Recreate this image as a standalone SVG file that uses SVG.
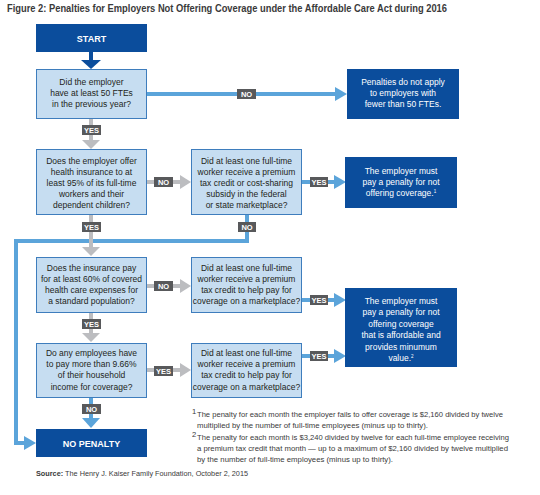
<svg xmlns="http://www.w3.org/2000/svg" width="540" height="495" viewBox="0 0 540 495">
<defs>
<style>
.q{fill:#c6ddf1;stroke:#3e7dbd;stroke-width:1}
.d{fill:#0b4d9c}
.t{font-family:"Liberation Sans",Arial,sans-serif;font-size:8.5px;fill:#231f20;text-anchor:middle}
.w{font-family:"Liberation Sans",Arial,sans-serif;font-size:8.5px;fill:#ffffff;text-anchor:middle}
.b{font-family:"Liberation Sans",Arial,sans-serif;font-size:9px;font-weight:bold;fill:#ffffff;text-anchor:middle}
.lb{fill:#58595b}
.lt{font-family:"Liberation Sans",Arial,sans-serif;font-size:7.5px;font-weight:bold;fill:#ffffff;text-anchor:middle}
.bl{stroke:#5ba4da;stroke-width:4;fill:none}
.gr{stroke:#bcbdc0;stroke-width:4;fill:none}
.bh{fill:#5ba4da}
.gh{fill:#bcbdc0}
.fn{font-family:"Liberation Sans",Arial,sans-serif;font-size:7.6px;fill:#3a3a3a}
</style>
</defs>
<rect width="540" height="495" fill="#ffffff"/>
<text x="7" y="12" font-family="'Liberation Sans',Arial,sans-serif" font-size="11" font-weight="bold" fill="#3a3a3a" textLength="440" lengthAdjust="spacingAndGlyphs">Figure 2: Penalties for Employers Not Offering Coverage under the Affordable Care Act during 2016</text>

<g id="connectors">
<line x1="91" y1="52" x2="91" y2="61" stroke="#0b4d9c" stroke-width="4"/>
<polygon points="81,60 101,60 91,69" fill="#0b4d9c"/>
<line class="bl" x1="147" y1="94" x2="337" y2="94"/>
<polygon class="bh" points="335,87 347,94 335,101"/>
<line class="gr" x1="91" y1="119" x2="91" y2="141"/>
<polygon class="gh" points="82,140 100,140 91,149"/>
<line class="gr" x1="147" y1="182" x2="182" y2="182"/>
<polygon class="gh" points="180,175 191,182 180,189"/>
<line class="bl" x1="302" y1="182" x2="336" y2="182"/>
<polygon class="bh" points="334,175 346,182 334,189"/>
<polyline class="bl" points="247,215 247,241 16,241 16,443 26,443"/>
<polygon class="bh" points="24,436 36,443 24,450"/>
<line class="gr" x1="91" y1="215" x2="91" y2="248"/>
<polygon class="gh" points="82,247 100,247 91,256"/>
<line class="gr" x1="147" y1="286" x2="182" y2="286"/>
<polygon class="gh" points="180,279 191,286 180,293"/>
<line class="bl" x1="302" y1="300" x2="336" y2="300"/>
<polygon class="bh" points="334,293 346,300 334,307"/>
<line class="gr" x1="91" y1="313" x2="91" y2="334"/>
<polygon class="gh" points="82,333 100,333 91,342"/>
<line class="gr" x1="147" y1="370" x2="182" y2="370"/>
<polygon class="gh" points="180,363 191,370 180,377"/>
<line class="bl" x1="302" y1="356" x2="336" y2="356"/>
<polygon class="bh" points="334,349 346,356 334,363"/>
<line class="bl" x1="91" y1="398" x2="91" y2="419"/>
<polygon class="bh" points="82,418 100,418 91,428"/>

<rect class="lb" x="237" y="89" width="19" height="10"/><text class="lt" x="246.5" y="97">NO</text>
<rect class="lb" x="82" y="125" width="19" height="10"/><text class="lt" x="91.5" y="133">YES</text>
<rect class="lb" x="154" y="177" width="19" height="10"/><text class="lt" x="163.5" y="185">NO</text>
<rect class="lb" x="310" y="177" width="18" height="10"/><text class="lt" x="319" y="185">YES</text>
<rect class="lb" x="82" y="222" width="19" height="10"/><text class="lt" x="91.5" y="230">YES</text>
<rect class="lb" x="238" y="222" width="18" height="10"/><text class="lt" x="247" y="230">NO</text>
<rect class="lb" x="154" y="281" width="19" height="10"/><text class="lt" x="163.5" y="289">NO</text>
<rect class="lb" x="310" y="295" width="18" height="10"/><text class="lt" x="319" y="303">YES</text>
<rect class="lb" x="82" y="319" width="19" height="10"/><text class="lt" x="91.5" y="327">YES</text>
<rect class="lb" x="154" y="366" width="19" height="10"/><text class="lt" x="163.5" y="374">YES</text>
<rect class="lb" x="310" y="351" width="18" height="10"/><text class="lt" x="319" y="359">YES</text>
<rect class="lb" x="82" y="404" width="19" height="10"/><text class="lt" x="91.5" y="412">NO</text>
</g>

<g id="start"><rect class="d" x="36" y="24" width="111" height="28"/><text class="b" x="91.5" y="41.5">START</text></g>

<g id="q1"><rect class="q" x="36.5" y="69.5" width="110" height="49"/>
<text class="t" x="91.5" y="85">Did the employer</text>
<text class="t" x="91.5" y="96">have at least 50 FTEs</text>
<text class="t" x="91.5" y="107">in the previous year?</text></g>

<g id="r1"><rect class="d" x="347" y="69" width="112" height="50"/>
<text class="w" x="403" y="85">Penalties do not apply</text>
<text class="w" x="403" y="96">to employers with</text>
<text class="w" x="403" y="107">fewer than 50 FTEs.</text></g>

<g id="q2"><rect class="q" x="36.5" y="149.5" width="110" height="65"/>
<text class="t" x="91.5" y="164">Does the employer offer</text>
<text class="t" x="91.5" y="175">health insurance to at</text>
<text class="t" x="91.5" y="186">least 95% of its full-time</text>
<text class="t" x="91.5" y="197">workers and their</text>
<text class="t" x="91.5" y="208">dependent children?</text></g>

<g id="q3"><rect class="q" x="191.5" y="149.5" width="110" height="65"/>
<text class="t" x="246.5" y="164">Did at least one full-time</text>
<text class="t" x="246.5" y="175">worker receive a premium</text>
<text class="t" x="246.5" y="186">tax credit or cost-sharing</text>
<text class="t" x="246.5" y="197">subsidy in the federal</text>
<text class="t" x="246.5" y="208">or state marketplace?</text></g>

<g id="r2"><rect class="d" x="345" y="157" width="112" height="51"/>
<text class="w" x="401" y="174">The employer must</text>
<text class="w" x="401" y="185">pay a penalty for not</text>
<text class="w" x="401" y="196">offering coverage.<tspan font-size="4.5" dy="-3">1</tspan></text></g>

<g id="q4"><rect class="q" x="36.5" y="257.5" width="110" height="55"/>
<text class="t" x="91.5" y="271">Does the insurance pay</text>
<text class="t" x="91.5" y="282">for at least 60% of covered</text>
<text class="t" x="91.5" y="293">health care expenses for</text>
<text class="t" x="91.5" y="304">a standard population?</text></g>

<g id="q5"><rect class="q" x="191.5" y="257.5" width="110" height="55"/>
<text class="t" x="246.5" y="271">Did at least one full-time</text>
<text class="t" x="246.5" y="282">worker receive a premium</text>
<text class="t" x="246.5" y="293">tax credit to help pay for</text>
<text class="t" x="246.5" y="304">coverage on a marketplace?</text></g>

<g id="r3"><rect class="d" x="345" y="288" width="112" height="79"/>
<text class="w" x="401" y="304">The employer must</text>
<text class="w" x="401" y="315">pay a penalty for not</text>
<text class="w" x="401" y="327">offering coverage</text>
<text class="w" x="401" y="338">that is affordable and</text>
<text class="w" x="401" y="350">provides minumum</text>
<text class="w" x="401" y="361">value.<tspan font-size="4.5" dy="-3">2</tspan></text></g>

<g id="q6"><rect class="q" x="36.5" y="343.5" width="110" height="54"/>
<text class="t" x="91.5" y="356">Do any employees have</text>
<text class="t" x="91.5" y="367">to pay more than 9.66%</text>
<text class="t" x="91.5" y="378">of their household</text>
<text class="t" x="91.5" y="390">income for coverage?</text></g>

<g id="q7"><rect class="q" x="191.5" y="343.5" width="110" height="54"/>
<text class="t" x="246.5" y="356">Did at least one full-time</text>
<text class="t" x="246.5" y="367">worker receive a premium</text>
<text class="t" x="246.5" y="378">tax credit to help pay for</text>
<text class="t" x="246.5" y="390">coverage on a marketplace?</text></g>

<g id="nopenalty"><rect class="d" x="36" y="429" width="111" height="28"/><text class="b" x="91.5" y="446.5">NO PENALTY</text></g>

<g id="notes">
<text class="fn" x="192" y="414" font-size="4.5">1</text>
<text class="fn" x="197" y="417" textLength="306" lengthAdjust="spacingAndGlyphs">The penalty for each month the employer fails to offer coverage is $2,160 divided by twelve</text>
<text class="fn" x="197" y="428" textLength="231" lengthAdjust="spacingAndGlyphs">multiplied by the number of full-time employees (minus up to thirty).</text>
<text class="fn" x="192" y="437" font-size="4.5">2</text>
<text class="fn" x="197" y="440" textLength="312" lengthAdjust="spacingAndGlyphs">The penalty for each month is $3,240 divided by twelve for each full-time employee receiving</text>
<text class="fn" x="197" y="451" textLength="311" lengthAdjust="spacingAndGlyphs">a premium tax credit that month — up to a maximum of $2,160 divided by twelve multiplied</text>
<text class="fn" x="197" y="462" textLength="196" lengthAdjust="spacingAndGlyphs">by the number of full-time employees (minus up to thirty).</text>
<text class="fn" x="36" y="476" textLength="212" lengthAdjust="spacingAndGlyphs"><tspan font-weight="bold">Source:</tspan> The Henry J. Kaiser Family Foundation, October 2, 2015</text>
</g>
</svg>
